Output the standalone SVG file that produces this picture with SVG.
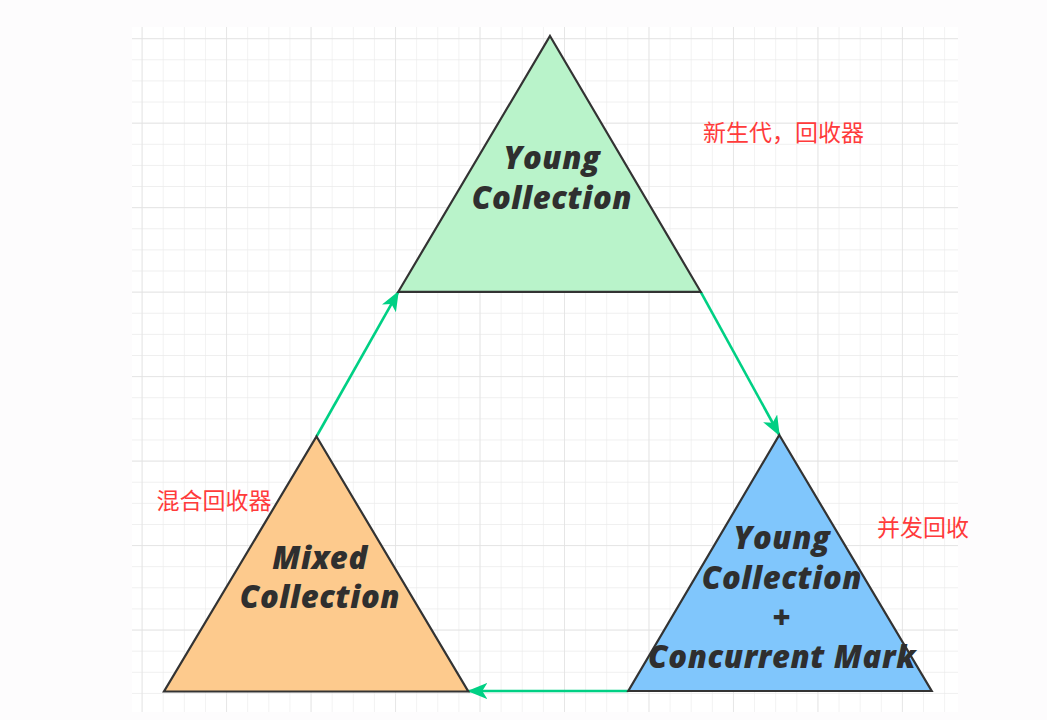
<svg xmlns="http://www.w3.org/2000/svg" width="1047" height="720" viewBox="0 0 1047 720">
  <style>
    .tri { stroke: #333333; stroke-width: 2.2; stroke-linejoin: miter; }
    .lbl { font-family: "Open Sans", "Noto Sans", "DejaVu Sans", sans-serif; font-weight: 800; font-style: italic; font-size: 31px; letter-spacing: 0.6px; fill: #2f2f2f; text-anchor: middle; }
    .note { font-family: "Noto Sans CJK SC", "Noto Sans", sans-serif; font-size: 23px; fill: #ff3b3b; }
    .conn { fill: none; stroke: #00d084; stroke-width: 2.6; }
  </style>
  <defs>
    <pattern id="minor" x="141.6" y="38.2" width="21.12" height="21.12" patternUnits="userSpaceOnUse">
      <path d="M0 0 H21.12 M0 0 V21.12" fill="none" stroke="#eaeaea" stroke-width="1.2"/>
    </pattern>
    <pattern id="major" x="141.6" y="38.2" width="84.48" height="84.48" patternUnits="userSpaceOnUse">
      <path d="M0 0 H84.48 M0 0 V84.48" fill="none" stroke="#e2e2e2" stroke-width="1.4"/>
    </pattern>
    <marker id="arrow" viewBox="0 0 20 16" refX="19" refY="8" markerWidth="20" markerHeight="16" markerUnits="userSpaceOnUse" orient="auto">
      <path d="M0 0 L20 8 L0 16 L5 8 Z" fill="#00d084"/>
    </marker>
  </defs>
  <rect width="1047" height="720" fill="#fdfcfd"/>
  <g id="grid">
    <rect x="132" y="27" width="826" height="685" fill="#ffffff"/>
    <rect x="132" y="27" width="826" height="685" fill="url(#minor)"/>
    <rect x="132" y="27" width="826" height="685" fill="url(#major)"/>
  </g>
  <g id="connectors">
    <path class="conn" d="M316.5 436.5 L398.3 291.8" marker-end="url(#arrow)"/>
    <path class="conn" d="M700.7 291.8 L779.3 435" marker-end="url(#arrow)"/>
    <path class="conn" d="M628.3 691 L468.3 691" marker-end="url(#arrow)"/>
  </g>
  <g id="young">
    <polygon class="tri" points="550,36 700.7,291.8 398.3,291.8" fill="#b9f3ca"/>
    <text class="lbl" x="552" y="169">Young</text>
    <text class="lbl" x="552" y="209">Collection</text>
  </g>
  <g id="young-concurrent">
    <polygon class="tri" points="779.3,435 931.7,691 628.3,691" fill="#80c6fc"/>
    <text class="lbl" x="782" y="549">Young</text>
    <text class="lbl" x="782" y="589">Collection</text>
    <text class="lbl" x="782" y="629">+</text>
    <text class="lbl" x="782" y="668">Concurrent Mark</text>
  </g>
  <g id="mixed">
    <polygon class="tri" points="316.5,436.5 468.3,691.5 164,691.5" fill="#fdca8d"/>
    <text class="lbl" x="320" y="569">Mixed</text>
    <text class="lbl" x="320" y="608">Collection</text>
  </g>
  <g id="notes">
    <text class="note" x="703" y="140.5">新生代，回收器</text>
    <text class="note" x="156.5" y="508.5">混合回收器</text>
    <text class="note" x="877" y="535.5">并发回收</text>
  </g>
</svg>
